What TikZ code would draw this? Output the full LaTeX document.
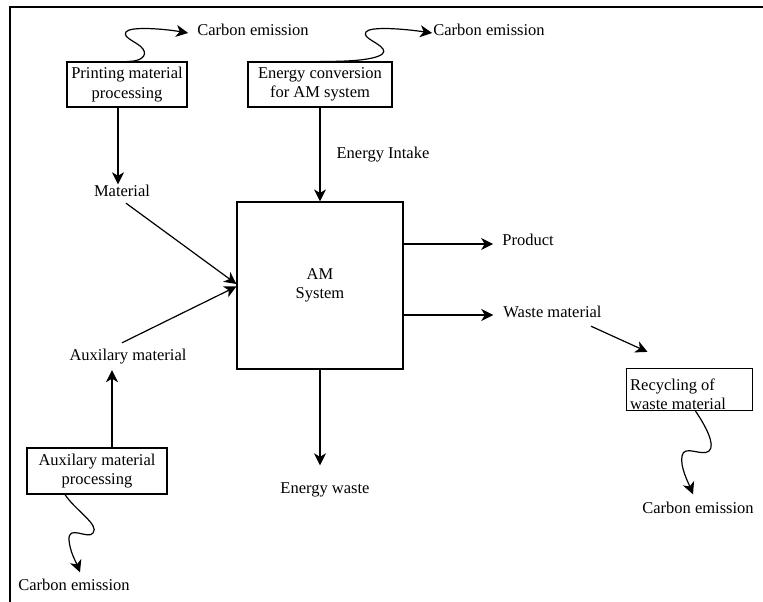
\documentclass[tikz,border=0pt]{standalone}
\usepackage{fontspec}
\setmainfont{Liberation Serif}
\usetikzlibrary{arrows.meta}
\begin{document}
\begin{tikzpicture}[x=1pt,y=-1pt,
  font=\fontsize{16.5}{19.5}\selectfont,
  box/.style={draw, line width=1.2pt, inner sep=0pt, align=center},
  lbl/.style={inner sep=0pt, text height=11.5pt, text depth=3.5pt},
  arr/.style={line width=1.2pt, -{Stealth[length=12pt,width=12pt,inset=3.5pt]}}]
\useasboundingbox (0,0) rectangle (763,602);
% frame
\draw[line width=2pt] (10,602) -- (10,7) -- (763,7);
% boxes
\node[box, minimum width=120pt, minimum height=45pt] (pm) at (127,84.5) {Printing material\\processing};
\node[box, minimum width=144pt, minimum height=45pt] (ec) at (320,84.5) {Energy conversion\\for AM system};
\node[box, minimum width=166pt, minimum height=167pt] (am) at (320,285.5) {AM\\System};
\node[box, minimum width=140pt, minimum height=46pt] (ax) at (97,471) {Auxilary material\\processing};
\node[box, minimum width=126pt, minimum height=42pt] (rc) at (689.5,389.5) {};
\node[inner sep=0pt, anchor=north west, align=left, font=\fontsize{16.5}{19.5}\selectfont] (rctext) at (630,378.5) {Recycling of\\waste material};
% labels
\node[lbl] (ce1) at (253,32) {Carbon emission};
\node[lbl] (ce2) at (489,32) {Carbon emission};
\node[lbl] (mat) at (122,192) {Material};
\node[lbl] (ein) at (383,154) {Energy Intake};
\node[lbl] (aux) at (128,356) {Auxilary material};
\node[lbl] (prod) at (528,241) {Product};
\node[lbl] (wm) at (552.5,313) {Waste material};
\node[lbl] (ew) at (325,489) {Energy waste};
\node[lbl] (ce3) at (74,586) {Carbon emission};
\node[lbl] (ce4) at (698,509) {Carbon emission};
% straight connectors
\draw[arr] ([xshift=-9pt]pm.south) -- ([xshift=-4pt]mat.north);
\draw[arr] (ec.south) -- (am.north);
\draw[arr] ([xshift=4pt,yshift=-3.5pt]mat.south) -- ([yshift=1.5pt]am.west);
\draw[arr] ([xshift=-6pt,yshift=5.5pt]aux.north) -- ([yshift=-1pt]am.west);
\draw[arr] ([xshift=15pt]ax.north) -- ([xshift=-16pt,yshift=-6.5pt]aux.south);
\draw[arr] (am.south) -- ([xshift=-5pt,yshift=16pt]ew.north);
\draw[arr] ([yshift=41.5pt]am.east) -- ([xshift=-9pt,yshift=-3pt]prod.west);
\draw[arr] ([yshift=-29.5pt]am.east) -- ([xshift=-10pt,yshift=-2pt]wm.west);
\draw[arr] ([xshift=38.5pt,yshift=-5.5pt]wm.south) -- ([xshift=-42pt,yshift=16pt]rc.north);
% wavy carbon emission connectors
\draw[arr] (pm.north) .. controls (140,62) and (148,56) .. (143,49)
  .. controls (138,42) and (122,38) .. (126,32)
  .. controls (130,26) and (165,29) .. ([xshift=-9pt,yshift=-1pt]ce1.west);
\draw[arr] (ec.north) .. controls (370,62) and (388,56) .. (383,49)
  .. controls (378,42) and (362,38) .. (366,32)
  .. controls (370,26) and (405,29) .. ([xshift=-1pt,yshift=-1pt]ce2.west);
\draw[arr] ([xshift=-32pt]ax.south) .. controls (75,510) and (100,525) .. (93,533)
  .. controls (88,540) and (68,524) .. (69,540)
  .. controls (70,552) and (76,562) .. ([xshift=6pt,yshift=6pt]ce3.north);
\draw[arr] ([xshift=6pt]rc.south) .. controls (705,425) and (716,445) .. (709,451)
  .. controls (702,457) and (684,444) .. (682,456)
  .. controls (680,467) and (688,482) .. ([xshift=-5pt,yshift=7pt]ce4.north);
\end{tikzpicture}
\end{document}
